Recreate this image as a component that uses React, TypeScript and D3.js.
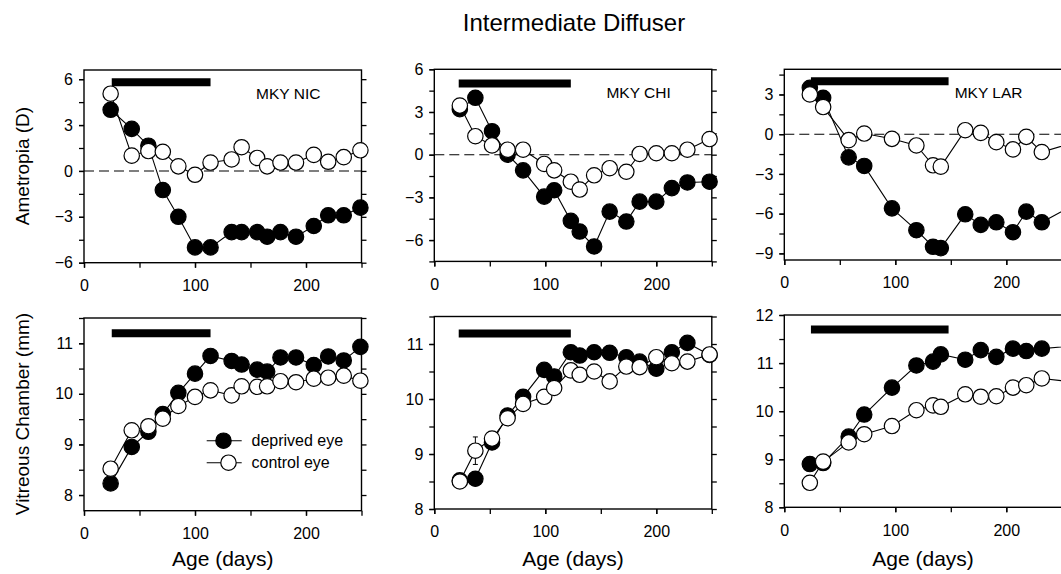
import { useEffect, useRef } from "react";
import * as d3 from "d3";

// MKY NIC
const nicAges = [24, 43, 58, 71, 85, 100, 114, 133, 142, 156, 165, 177, 191, 207, 220, 234, 249];
const nicRefDeprived = [4.0, 2.75, 1.65, -1.25, -3.0, -5.0, -5.0, -4.0, -4.0, -4.0, -4.3, -4.0, -4.3, -3.6, -2.9, -2.9, -2.4];
const nicRefControl = [5.05, 1.0, 1.3, 1.25, 0.3, -0.25, 0.55, 0.75, 1.55, 0.85, 0.3, 0.55, 0.55, 1.05, 0.6, 0.9, 1.35];
const nicVcDeprived = [8.23, 8.95, 9.25, 9.6, 10.02, 10.4, 10.75, 10.65, 10.58, 10.48, 10.44, 10.72, 10.72, 10.57, 10.74, 10.66, 10.93];
const nicVcControl = [8.52, 9.28, 9.36, 9.51, 9.76, 9.94, 10.07, 9.97, 10.15, 10.14, 10.15, 10.25, 10.23, 10.3, 10.32, 10.36, 10.26];

// MKY CHI
const chiAges = [23, 37, 52, 66, 80, 99, 108, 123, 131, 144, 158, 173, 185, 200, 214, 228, 248];
const chiRefDeprived = [3.2, 4.0, 1.65, 0.0, -1.1, -2.95, -2.5, -4.65, -5.4, -6.45, -4.0, -4.7, -3.3, -3.3, -2.35, -1.95, -1.9];
const chiRefControl = [3.45, 1.3, 0.65, 0.35, 0.35, -0.65, -1.1, -1.9, -2.45, -1.45, -0.95, -1.2, 0.05, 0.1, 0.1, 0.35, 1.1];
const chiVcDeprived = [8.52, 8.55, 9.21, 9.7, 10.04, 10.53, 10.41, 10.85, 10.79, 10.85, 10.84, 10.76, 10.68, 10.55, 10.85, 11.02, 10.8];
const chiVcControl = [8.5, 9.06, 9.28, 9.65, 9.91, 10.04, 10.2, 10.52, 10.44, 10.5, 10.32, 10.59, 10.58, 10.76, 10.65, 10.68, 10.81];

// MKY LAR (last point sits past the cropped right edge)
const larAges = [23, 35, 58, 72, 97, 119, 134, 141, 163, 177, 191, 206, 218, 232, 262];
const larRefDeprived = [3.5, 2.75, -1.75, -2.4, -5.6, -7.25, -8.5, -8.6, -6.05, -6.85, -6.65, -7.4, -5.85, -6.65, -5.3];
const larRefControl = [3.0, 2.05, -0.45, 0.05, -0.35, -0.85, -2.35, -2.45, 0.3, 0.1, -0.6, -1.15, -0.2, -1.35, -0.6];
const larVcDeprived = [8.9, 8.92, 9.47, 9.93, 10.49, 10.95, 11.03, 11.18, 11.07, 11.27, 11.13, 11.3, 11.25, 11.3, 11.36];
const larVcControl = [8.51, 8.95, 9.35, 9.52, 9.69, 10.02, 10.12, 10.09, 10.35, 10.3, 10.31, 10.49, 10.54, 10.68, 10.6];

// diffuser rearing period (days)
const nicPeriod = [25, 114];
const chiPeriod = [22, 123];
const larPeriod = [24, 148];

const monkeyNames = ["MKY NIC", "MKY CHI", "MKY LAR"];
const refTicks = [-9, -6, -3, 0, 3, 6];
const vcTicks = [8, 9, 10, 11, 12];
const ageTicks = [0, 100, 200];

const FONT = "'Liberation Sans', Arial, Helvetica, sans-serif";

const colX = [84, 434.3, 784.3];
const X_SPAN = 277.5;

const panels = [
  { col: 0, ages: nicAges, dep: nicRefDeprived, ctl: nicRefControl, period: nicPeriod, yDom: [-6, 6.6], yRange: [262.7, 70], barY: 5.8, ticks: refTicks, minor: 1.5, zero: true, name: monkeyNames[0] },
  { col: 1, ages: chiAges, dep: chiRefDeprived, ctl: chiRefControl, period: chiPeriod, yDom: [-7.5, 6], yRange: [261.4, 69.3], barY: 5.0, ticks: refTicks, minor: 1.5, zero: true, name: monkeyNames[1] },
  { col: 2, ages: larAges, dep: larRefDeprived, ctl: larRefControl, period: larPeriod, yDom: [-9.5, 4.9], yRange: [260, 69.3], barY: 4.0, ticks: refTicks, minor: 1.5, zero: true, name: monkeyNames[2] },
  { col: 0, ages: nicAges, dep: nicVcDeprived, ctl: nicVcControl, period: nicPeriod, yDom: [7.69, 11.5], yRange: [510.7, 318], barY: 11.2, ticks: vcTicks, minor: 0.5, legend: true },
  { col: 1, ages: chiAges, dep: chiVcDeprived, ctl: chiVcControl, period: chiPeriod, yDom: [8, 11.5], yRange: [509, 316.5], barY: 11.19, ticks: vcTicks, minor: 0.5, err: { i: 1, e: 0.25 } },
  { col: 2, ages: larAges, dep: larVcDeprived, ctl: larVcControl, period: larPeriod, yDom: [8, 12], yRange: [507.3, 315], barY: 11.7, ticks: vcTicks, minor: 0.5 },
];

export default function App() {
  const svgRef = useRef(null);

  useEffect(() => {
    const svg = d3.select(svgRef.current);
    svg.selectAll("*").remove();
    svg.attr("font-family", FONT);

    svg.append("text").attr("x", 574).attr("y", 31).attr("text-anchor", "middle")
      .attr("font-size", 24).text("Intermediate Diffuser");

    svg.append("text").attr("transform", "translate(29,166) rotate(-90)").attr("text-anchor", "middle")
      .attr("font-size", 19).text("Ametropia (D)");
    svg.append("text").attr("transform", "translate(29,414) rotate(-90)").attr("text-anchor", "middle")
      .attr("font-size", 19).text("Vitreous Chamber (mm)");

    panels.forEach((p) => {
      const x0 = colX[p.col];
      const x = d3.scaleLinear().domain([0, 250]).range([x0, x0 + X_SPAN]);
      const y = d3.scaleLinear().domain(p.yDom).range(p.yRange);
      const g = svg.append("g");
      const [yMin, yMax] = p.yDom;
      const major = p.ticks.filter((t) => t >= yMin - 1e-6 && t <= yMax + 1e-6);
      const minor = d3.range(Math.ceil(yMin / p.minor) * p.minor, yMax + 1e-6, p.minor);
      const bottom = p.yRange[0];
      const top = p.yRange[1];

      // frame
      g.append("rect").attr("x", x(0)).attr("y", top).attr("width", x(250) - x(0)).attr("height", bottom - top)
        .attr("fill", "none").attr("stroke", "#000").attr("stroke-width", 1.4);

      const styleAxis = (a) => {
        a.select(".domain").remove();
        a.selectAll("line").attr("stroke-width", 1.3);
        a.selectAll("text").attr("font-family", FONT).attr("font-size", 16).attr("fill", "#000");
      };

      g.append("g").attr("transform", `translate(${x(0)},0)`)
        .call(d3.axisLeft(y).tickValues(minor).tickSize(5).tickFormat(() => ""))
        .call(styleAxis);
      g.append("g").attr("transform", `translate(${x(0)},0)`)
        .call(d3.axisLeft(y).tickValues(major).tickSize(5).tickPadding(6).tickFormat(d3.format("d")))
        .call(styleAxis);
      g.append("g").attr("transform", `translate(${x(250)},0)`)
        .call(d3.axisRight(y).tickValues(minor).tickSize(5).tickFormat(() => ""))
        .call(styleAxis);
      g.append("g").attr("transform", `translate(0,${bottom})`)
        .call(d3.axisBottom(x).tickValues(d3.range(0, 251, 50)).tickSize(5).tickFormat(() => ""))
        .call(styleAxis);
      g.append("g").attr("transform", `translate(0,${bottom})`)
        .call(d3.axisBottom(x).tickValues(ageTicks).tickSize(5).tickPadding(12).tickFormat(d3.format("d")))
        .call(styleAxis);

      if (p.zero) {
        g.append("line").attr("x1", x(0)).attr("x2", x(250)).attr("y1", y(0)).attr("y2", y(0))
          .attr("stroke", "#000").attr("stroke-width", 1.1).attr("stroke-dasharray", "10,5");
      }
      if (p.name) {
        g.append("text").attr("x", x(184)).attr("y", y(p.yDom[1]) + 29).attr("text-anchor", "middle")
          .attr("font-size", 15.5).text(p.name);
      } else {
        g.append("text").attr("x", x(125)).attr("y", 566).attr("text-anchor", "middle")
          .attr("font-size", 21).text("Age (days)");
      }

      // rearing bar
      g.append("line").attr("x1", x(p.period[0])).attr("x2", x(p.period[1]))
        .attr("y1", y(p.barY)).attr("y2", y(p.barY)).attr("stroke", "#000").attr("stroke-width", 8);

      const line = d3.line().x((d) => x(d[0])).y((d) => y(d[1]));
      const series = [
        { vals: p.dep, fill: "#000" },
        { vals: p.ctl, fill: "#fff" },
      ];
      series.forEach((s) => {
        const pts = p.ages.map((a, i) => [a, s.vals[i]]);
        g.append("path").datum(pts).attr("d", line).attr("fill", "none").attr("stroke", "#000").attr("stroke-width", 1.1);
        if (s.fill === "#fff" && p.err) {
          const a = p.ages[p.err.i];
          const v = s.vals[p.err.i];
          g.append("line").attr("x1", x(a)).attr("x2", x(a)).attr("y1", y(v - p.err.e)).attr("y2", y(v + p.err.e))
            .attr("stroke", "#000").attr("stroke-width", 1);
          [v - p.err.e, v + p.err.e].forEach((e) => {
            g.append("line").attr("x1", x(a) - 2.5).attr("x2", x(a) + 2.5).attr("y1", y(e)).attr("y2", y(e))
              .attr("stroke", "#000").attr("stroke-width", 1);
          });
        }
        g.selectAll(null).data(pts).enter().append("circle")
          .attr("cx", (d) => x(d[0])).attr("cy", (d) => y(d[1])).attr("r", 7.7)
          .attr("fill", s.fill).attr("stroke", "#000").attr("stroke-width", 1.2);
      });

      if (p.legend) {
        const rows = [
          { label: "deprived eye", fill: "#000", cy: 440.7, cx: 223.5 },
          { label: "control eye", fill: "#fff", cy: 462.7, cx: 228.5 },
        ];
        rows.forEach((r) => {
          g.append("line").attr("x1", 206.7).attr("x2", 241.7).attr("y1", r.cy).attr("y2", r.cy)
            .attr("stroke", "#000").attr("stroke-width", 1.1);
          g.append("circle").attr("cx", r.cx).attr("cy", r.cy).attr("r", 7.7)
            .attr("fill", r.fill).attr("stroke", "#000").attr("stroke-width", 1.2);
          g.append("text").attr("x", 251.5).attr("y", r.cy).attr("dy", "0.35em")
            .attr("font-size", 16).text(r.label);
        });
      }
    });
  }, []);

  return (
    <svg
      ref={svgRef}
      width={1061}
      height={574}
      style={{ position: "absolute", left: 0, top: 0, background: "#fff" }}
    />
  );
}
